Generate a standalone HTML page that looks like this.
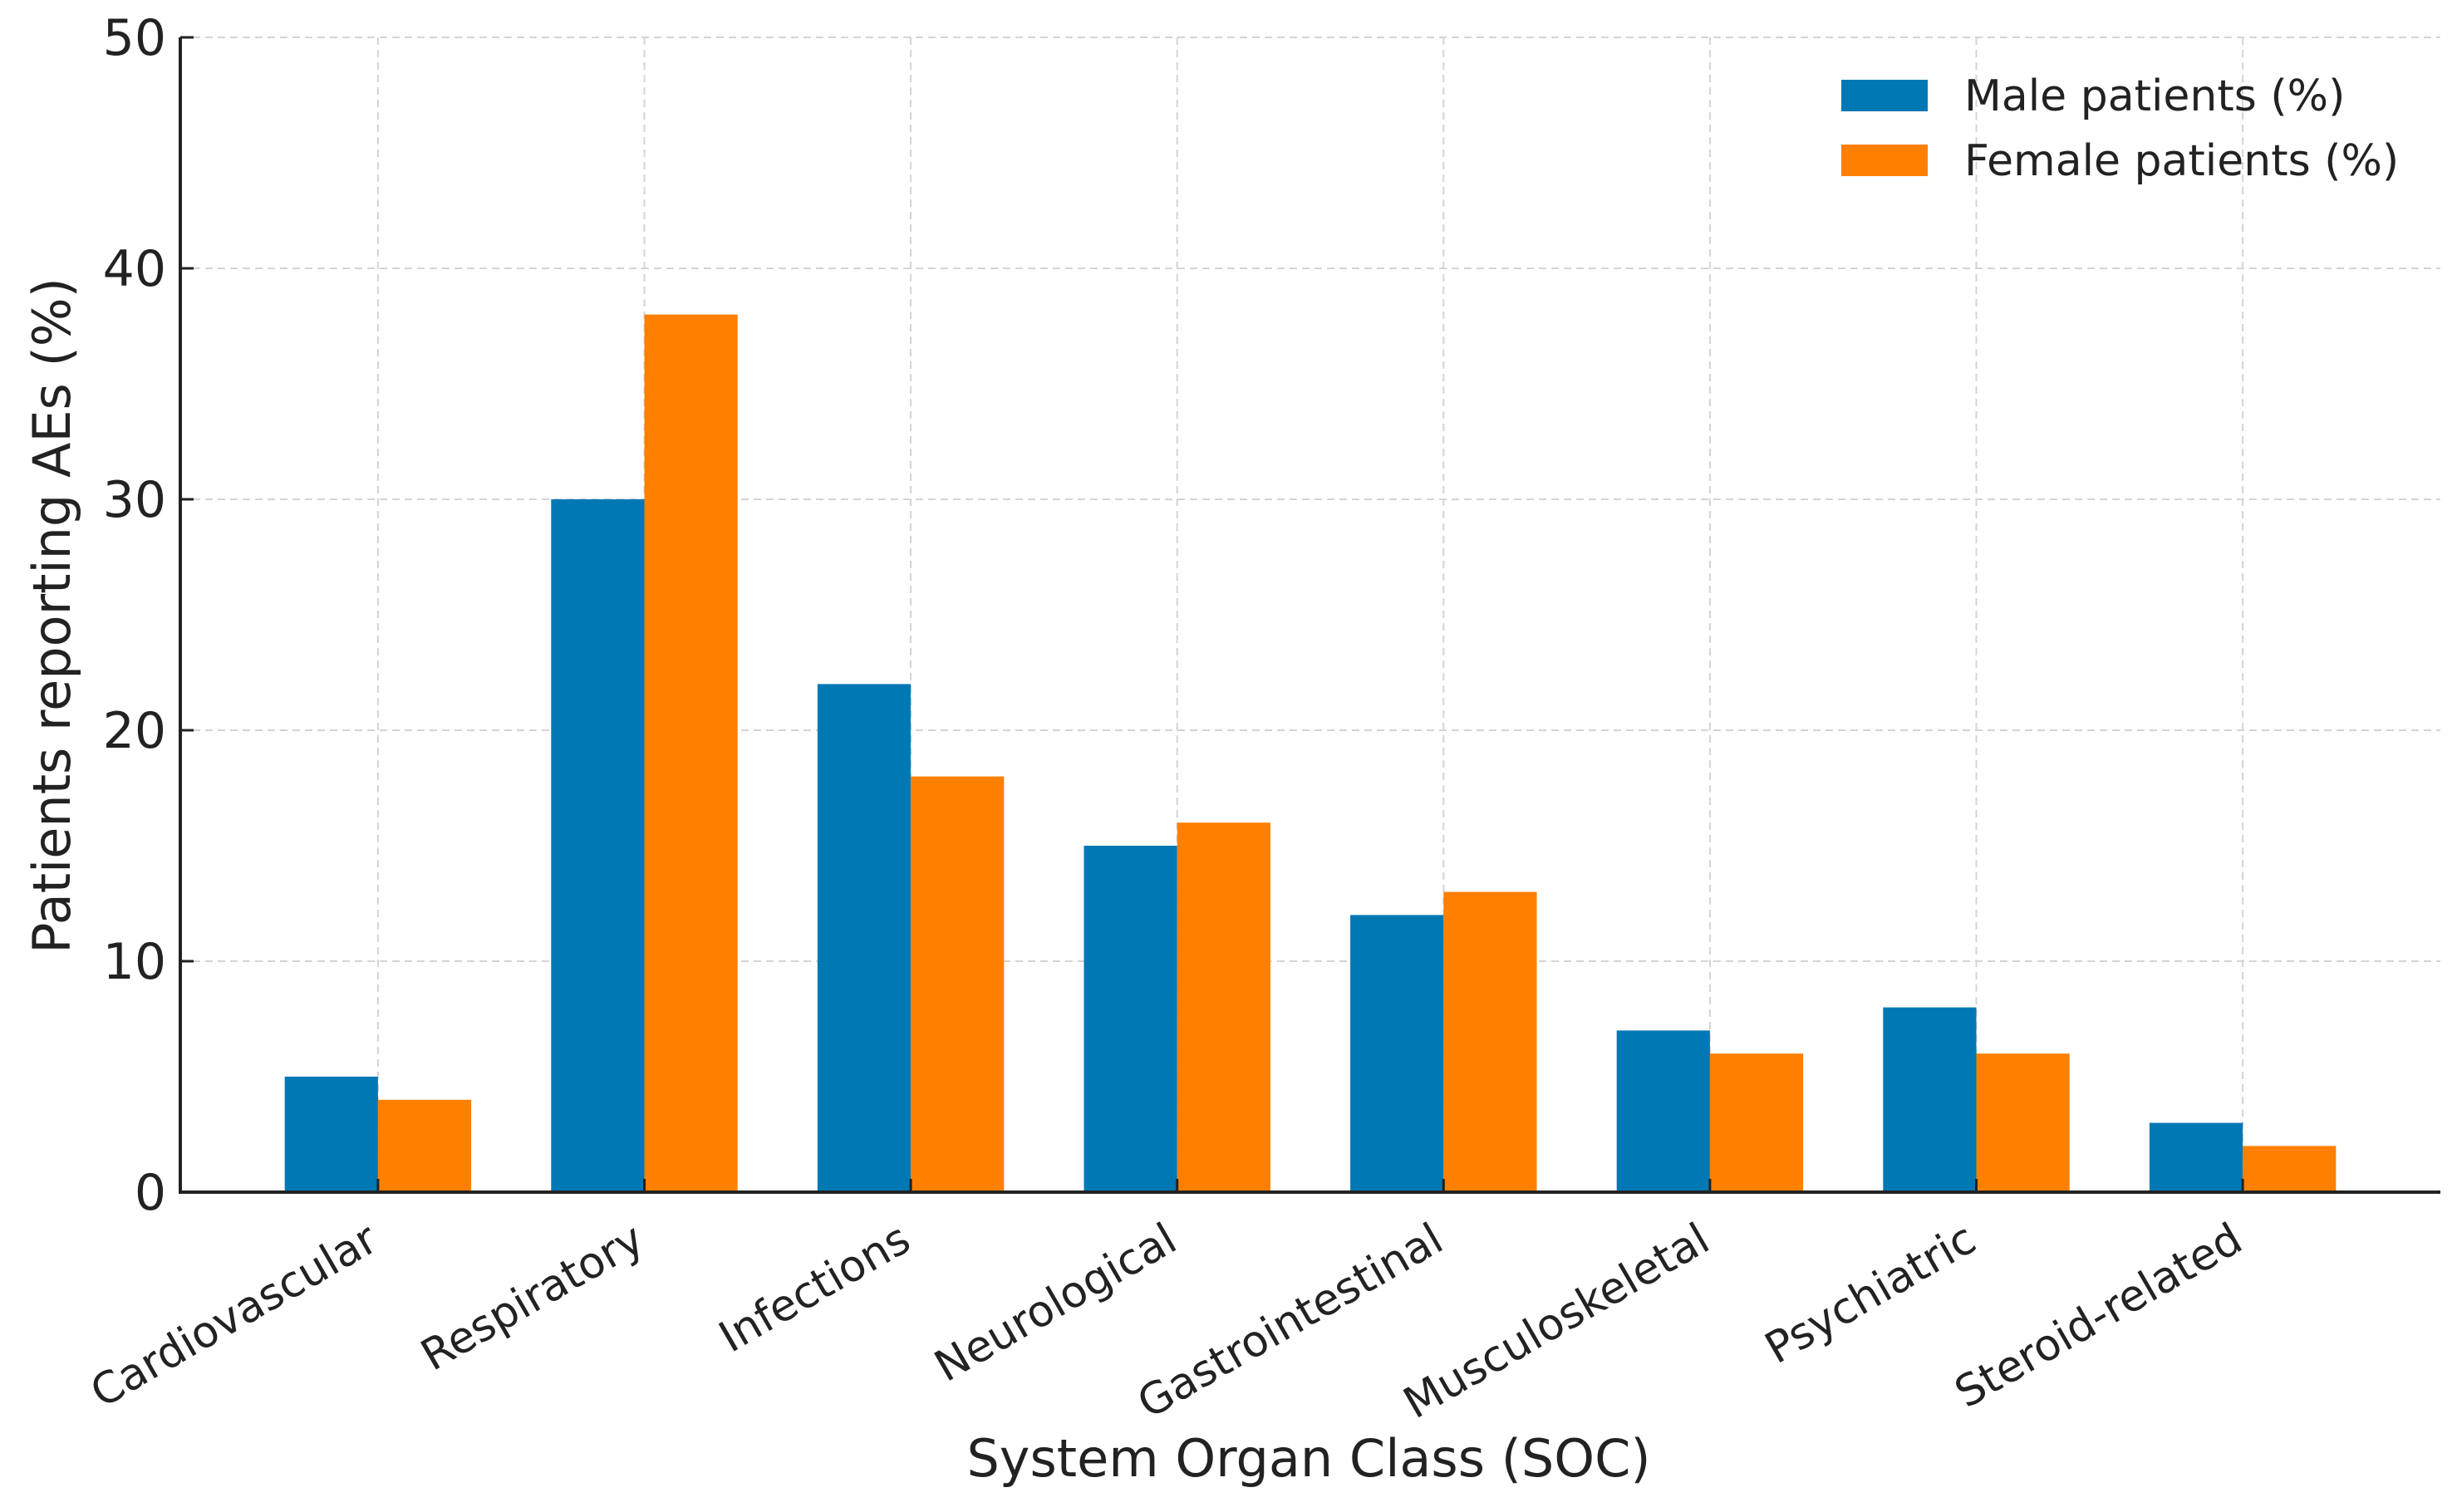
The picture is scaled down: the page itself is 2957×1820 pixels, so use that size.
<!DOCTYPE html>
<html><head><meta charset="utf-8"><style>
html,body{margin:0;padding:0;background:#fff;}
svg{display:block;font-family:"DejaVu Sans","Liberation Sans",sans-serif;}
</style></head><body>
<svg id="chart" width="2957" height="1820" viewBox="0 0 2957 1820" xmlns="http://www.w3.org/2000/svg">
<g id="grid"></g>
<g id="bars"></g>
<g id="axes"></g>
<text x="1575" y="1777" font-size="62" text-anchor="middle" fill="#222">System Organ Class (SOC)</text>
<text transform="translate(84,741) rotate(-90)" font-size="62" text-anchor="middle" fill="#222">Patients reporting AEs (%)</text>
<g>
  <rect x="2216" y="96" width="104" height="38" fill="#0078b4"/>
  <text x="2364" y="133" font-size="52" fill="#222">Male patients (%)</text>
  <rect x="2216" y="174" width="104" height="38" fill="#ff8000"/>
  <text x="2364" y="211" font-size="52" fill="#222">Female patients (%)</text>
</g>
</svg>
<script>
const categories = ["Cardiovascular","Respiratory","Infections","Neurological","Gastrointestinal","Musculoskeletal","Psychiatric","Steroid-related"];
const maleValues = [5,30,22,15,12,7,8,3];
const femaleValues = [4,38,18,16,13,6,6,2];
const yTicks = [0,10,20,30,40,50];

const NS = "http://www.w3.org/2000/svg";
const L = 217, R = 2937, T = 45, B = 1435;
const xMin = -0.742, xMax = categories.length - 1 + 0.742;
const yMax = 50;
const barW = 0.35;
function xs(v){ return L + (v - xMin) / (xMax - xMin) * (R - L); }
function ys(v){ return B - v / yMax * (B - T); }
function mk(tag, attrs, parent){
  const e = document.createElementNS(NS, tag);
  for (const k in attrs) e.setAttribute(k, attrs[k]);
  parent.appendChild(e);
  return e;
}
const grid = document.getElementById('grid');
const bars = document.getElementById('bars');
const axes = document.getElementById('axes');

yTicks.forEach(t => {
  if (t > 0) {
    const g = mk('line', {x1:L, x2:R, y1:ys(t), y2:ys(t), stroke:'#d4d4d4', 'stroke-width':2, 'stroke-dasharray':'9,6'}, grid);
    
    
  }
  const tk = mk('line', {x1:L, x2:L+16, y1:ys(t), y2:ys(t), stroke:'#222', 'stroke-width':3}, axes);
  
  
  const lb = mk('text', {x:200, y:ys(t)+21, 'font-size':60, 'text-anchor':'end', fill:'#222'}, axes);
  lb.textContent = t;
  
  
});

categories.forEach((c, i) => {
  const cx = xs(i);
  const g = mk('line', {x1:cx, x2:cx, y1:T, y2:B, stroke:'#d4d4d4', 'stroke-width':2, 'stroke-dasharray':'9,6'}, grid);
  
  

  const m = mk('rect', {x:xs(i-barW), y:ys(maleValues[i]), width:xs(i)-xs(i-barW), height:B-ys(maleValues[i]), fill:'#0078b4'}, bars);
  
  
  const f = mk('rect', {x:xs(i), y:ys(femaleValues[i]), width:xs(i+barW)-xs(i), height:B-ys(femaleValues[i]), fill:'#ff8000'}, bars);
  
  

  const tk = mk('line', {x1:cx, x2:cx, y1:B, y2:B-16, stroke:'#222', 'stroke-width':3}, axes);
  
  
  const lb = mk('text', {transform:'translate(' + (cx+3) + ',1502) rotate(-30)', 'font-size':52, 'text-anchor':'end', fill:'#222'}, axes);
  lb.textContent = c;
  
  
});

const ya = mk('line', {x1:L, x2:L, y1:T, y2:B+2, stroke:'#222', 'stroke-width':4}, axes);


const xa = mk('line', {x1:L-2, x2:R, y1:B, y2:B, stroke:'#222', 'stroke-width':4}, axes);


</script>
</body></html>
